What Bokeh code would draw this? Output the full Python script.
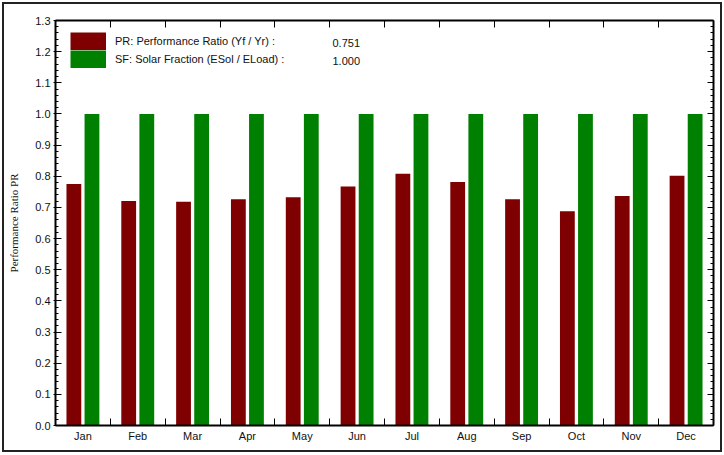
from bokeh.plotting import figure
from bokeh.models import (ColumnDataSource, FixedTicker, LinearAxis, Legend, LegendItem,
                          Label, PrintfTickFormatter, Range1d)
from bokeh.transform import dodge
from bokeh.embed import file_html
from bokeh.resources import INLINE

# ---- data ----
months = ["Jan", "Feb", "Mar", "Apr", "May", "Jun", "Jul", "Aug", "Sep", "Oct", "Nov", "Dec"]
pr_values = [0.775, 0.721, 0.718, 0.726, 0.733, 0.767, 0.808, 0.782, 0.726, 0.688, 0.737, 0.802]
sf_values = [1.0, 1.0, 1.0, 1.0, 1.0, 1.0, 1.0, 1.0, 1.0, 1.0, 1.0, 1.0]
pr_label = "PR: Performance Ratio (Yf / Yr) :"
sf_label = "SF: Solar Fraction (ESol / ELoad) :"
pr_year = "0.751"
sf_year = "1.000"
y_title = "Performance Ratio PR"

RED = "#7f0000"
GREEN = "#008000"
FONT = "Liberation Sans"

centers = [i + 0.5 for i in range(len(months))]
bounds = [i for i in range(1, len(months))]
src = ColumnDataSource(dict(xc=centers, pr=pr_values, sf=sf_values, m=months))

p = figure(width=720, height=450, x_range=Range1d(0, len(months)), y_range=Range1d(0, 1.3),
           output_backend="svg", toolbar_location=None,
           min_border_left=51, min_border_right=11, min_border_top=16, min_border_bottom=29)
p.styles = {"border": "2px solid #222", "margin-left": "2px", "margin-top": "2px"}
p.xgrid.visible = False
p.ygrid.visible = False
p.outline_line_color = None
p.background_fill_color = "white"
p.border_fill_color = "white"

r_pr = p.vbar(x=dodge("xc", -0.165, range=p.x_range), top="pr", width=0.27, source=src,
              fill_color=RED, line_color=None)
r_sf = p.vbar(x=dodge("xc", 0.165, range=p.x_range), top="sf", width=0.27, source=src,
              fill_color=GREEN, line_color=None)

# legend swatches: hidden line renderers, drawn as thick solid bars in the legend
sw_pr = p.line(x="xc", y="pr", source=src, line_color=RED, line_width=18, line_cap="butt",
               visible=False)
sw_sf = p.line(x="xc", y="sf", source=src, line_color=GREEN, line_width=18, line_cap="butt",
               visible=False)

# x axis (bottom): labels at month centres, ticks at month boundaries
xa = p.xaxis[0]
xa.ticker = FixedTicker(ticks=centers, minor_ticks=bounds)
xa.major_label_overrides = {c: m for c, m in zip(centers, months)}
xa.major_tick_in = 0
xa.major_tick_out = 0
xa.minor_tick_in = 7
xa.minor_tick_out = 0
xa.axis_line_width = 2
xa.major_label_standoff = 4
xa.major_label_text_font = FONT
xa.major_label_text_font_size = "11px"
xa.major_label_text_color = "#111"

top = LinearAxis(ticker=FixedTicker(ticks=[], minor_ticks=bounds),
                 major_tick_in=0, major_tick_out=0, minor_tick_in=7, minor_tick_out=0,
                 axis_line_width=2, major_label_text_font_size="0px", major_label_text_color=None)
p.add_layout(top, "above")

# y axis
yt = FixedTicker(ticks=[round(i * 0.1, 2) for i in range(14)],
                 minor_ticks=[round(i * 0.02, 2) for i in range(66)])
ya = p.yaxis[0]
ya.ticker = yt
ya.formatter = PrintfTickFormatter(format="%.1f")
ya.major_tick_in = 6
ya.major_tick_out = 2
ya.minor_tick_in = 3
ya.minor_tick_out = 0
ya.axis_line_width = 2
ya.major_label_standoff = 3
ya.major_label_text_font = FONT
ya.major_label_text_font_size = "11px"
ya.major_label_text_color = "#111"
ya.axis_label = y_title
ya.axis_label_text_font = "Liberation Serif"
ya.axis_label_text_font_size = "11px"
ya.axis_label_text_font_style = "normal"
ya.axis_label_standoff = 12
ya.axis_label_text_color = "#111"

right = LinearAxis(ticker=yt, major_tick_in=6, major_tick_out=0, minor_tick_in=3, minor_tick_out=0,
                   axis_line_width=2, major_label_text_font_size="0px", major_label_text_color=None)
p.add_layout(right, "right")

# legend
legend = Legend(items=[LegendItem(label=pr_label, renderers=[sw_pr]),
                       LegendItem(label=sf_label, renderers=[sw_sf])],
                location=(15, 357), orientation="vertical",
                glyph_width=36, glyph_height=18, spacing=0, padding=0, margin=0,
                label_standoff=9, label_height=18, click_policy="none",
                inactive_fill_alpha=0,
                label_text_font=FONT, label_text_font_size="11px", label_text_color="#111",
                border_line_color=None, background_fill_alpha=0)
p.add_layout(legend, "center")

for txt, yy in [(pr_year, 383), (sf_year, 365)]:
    p.add_layout(Label(x=277, y=yy, x_units="screen", y_units="screen", text=txt,
                       text_font=FONT, text_font_size="11px", text_color="#111",
                       text_baseline="middle", text_align="left"))

open("out.html", "w").write(file_html(p, INLINE))
